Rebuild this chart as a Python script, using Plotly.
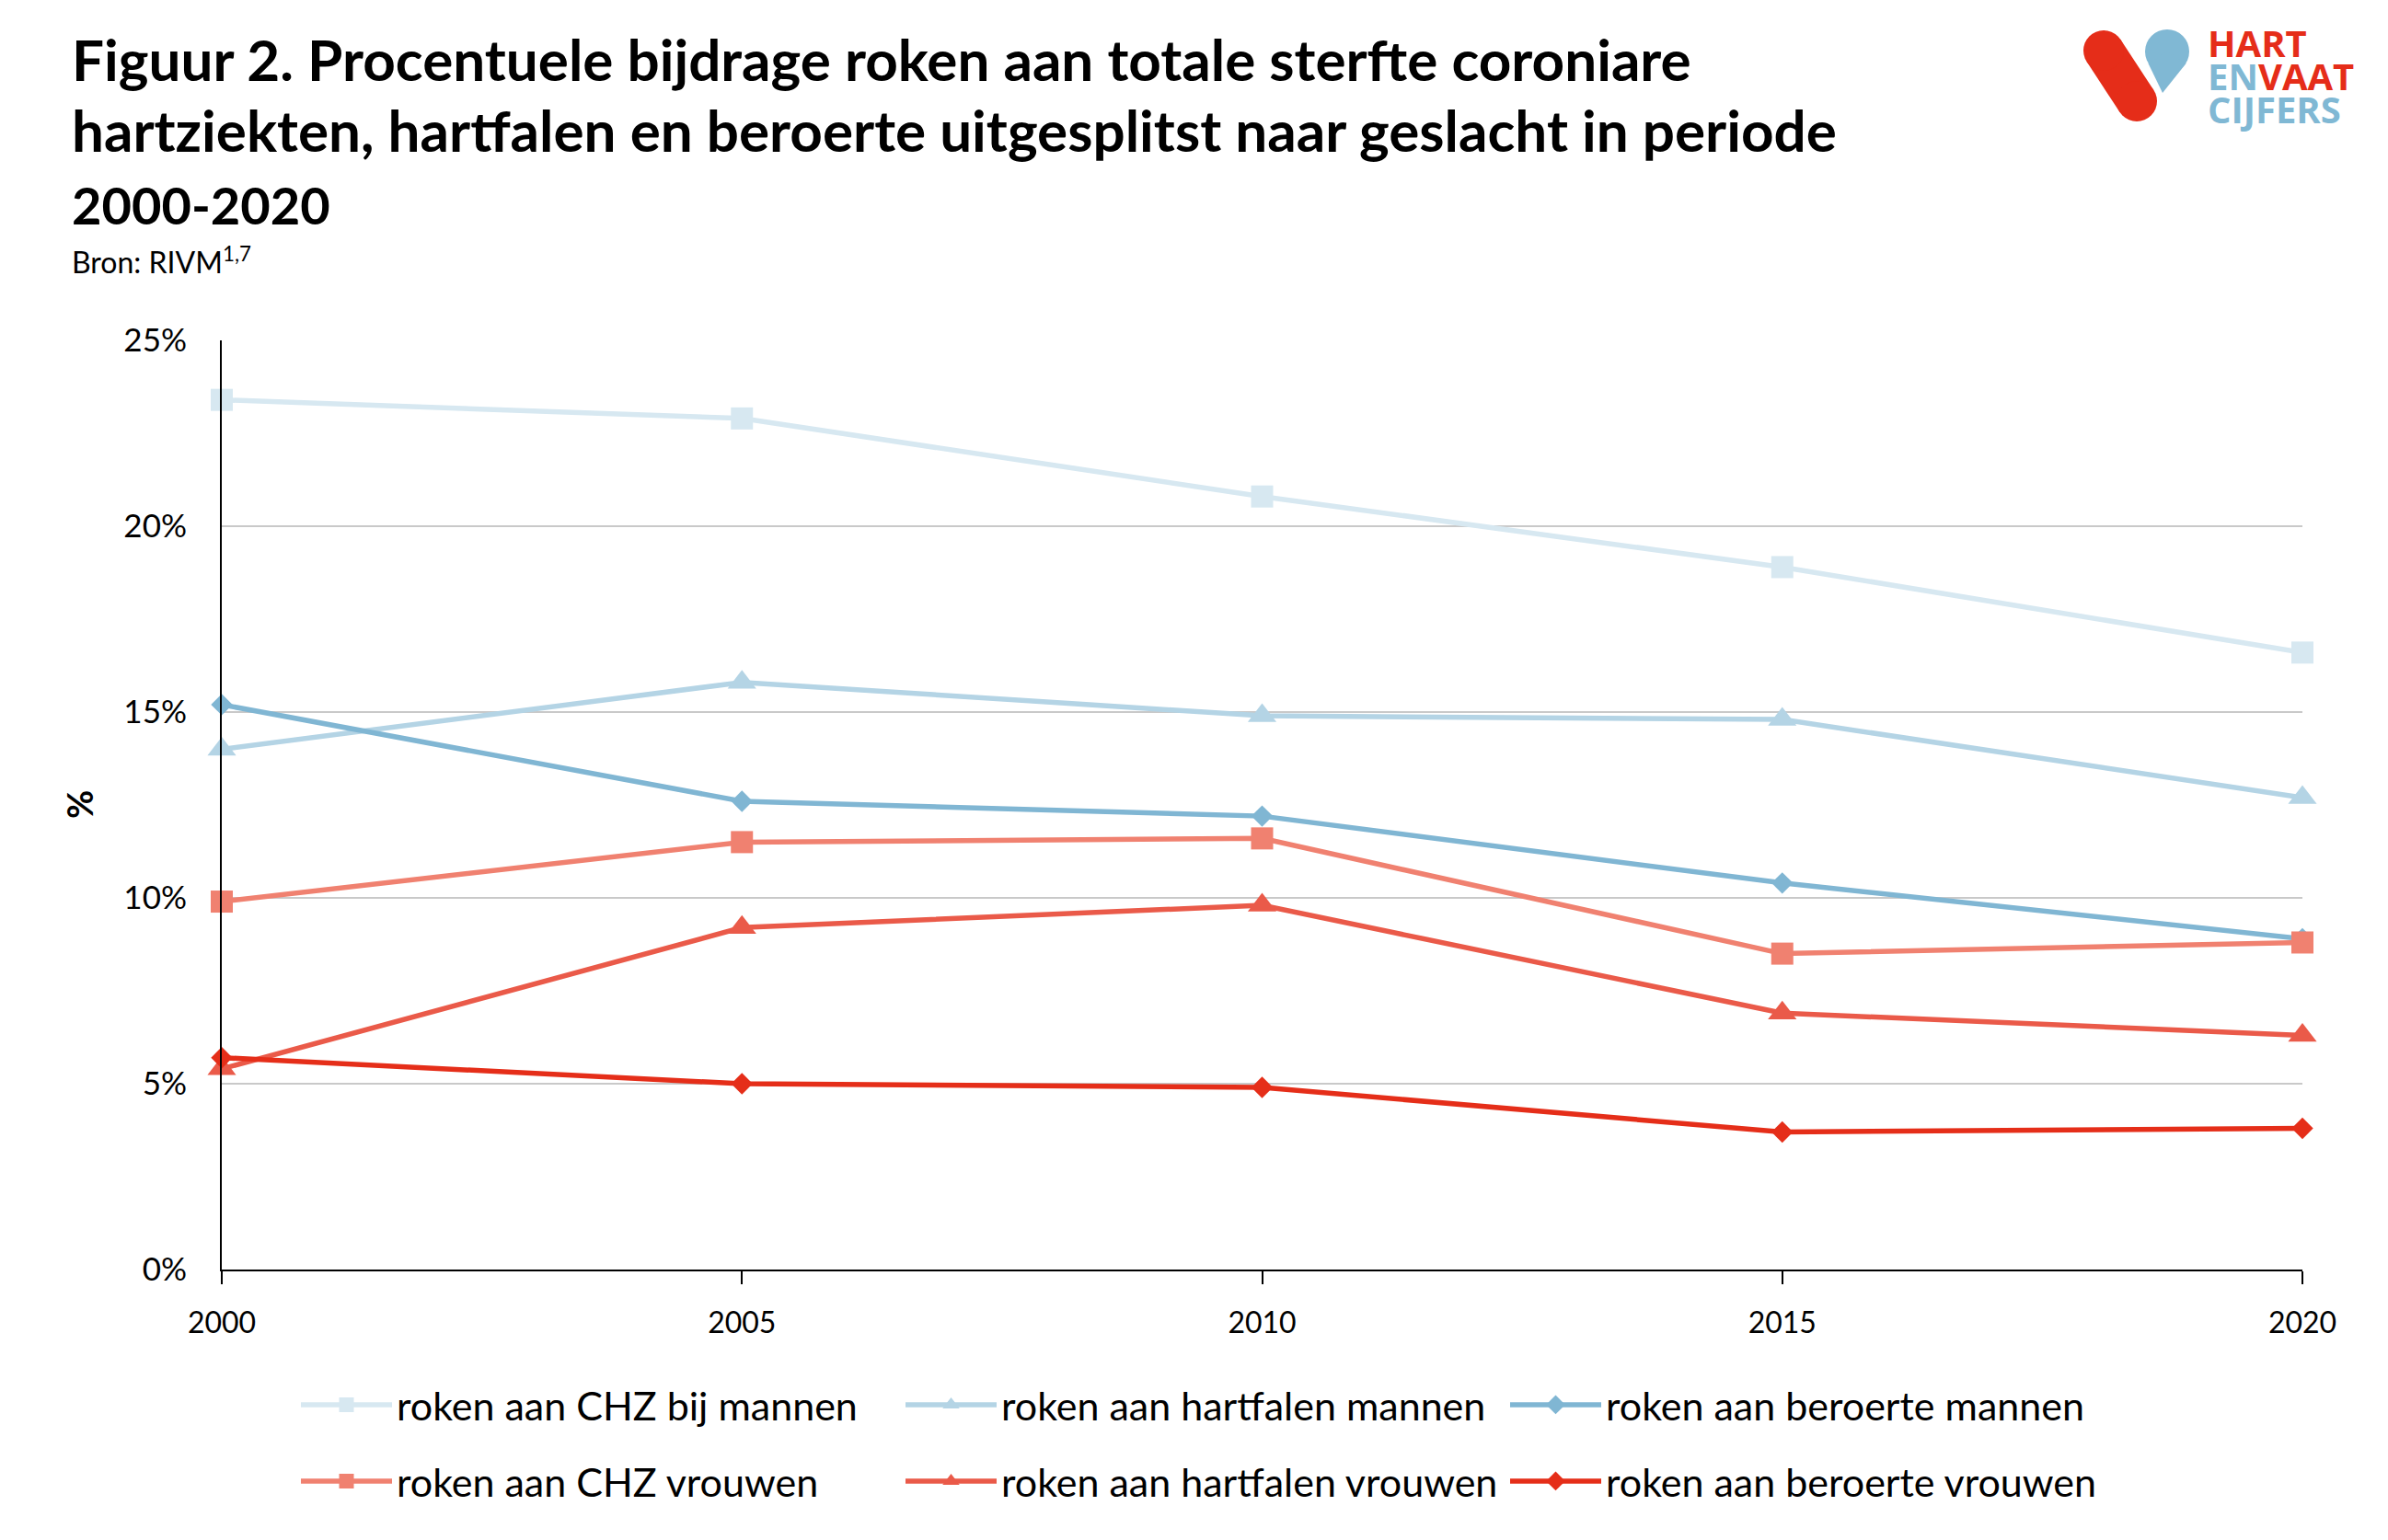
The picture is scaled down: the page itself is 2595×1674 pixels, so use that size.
import plotly.graph_objects as go

years = [2000, 2005, 2010, 2015, 2020]

names = [
    "roken aan CHZ bij mannen",
    "roken aan hartfalen mannen",
    "roken aan beroerte mannen",
    "roken aan CHZ vrouwen",
    "roken aan hartfalen vrouwen",
    "roken aan beroerte vrouwen",
]

chz_mannen = [23.4, 22.9, 20.8, 18.9, 16.6]
hartfalen_mannen = [14.0, 15.8, 14.9, 14.8, 12.7]
beroerte_mannen = [15.2, 12.6, 12.2, 10.4, 8.9]
chz_vrouwen = [9.9, 11.5, 11.6, 8.5, 8.8]
hartfalen_vrouwen = [5.4, 9.2, 9.8, 6.9, 6.3]
beroerte_vrouwen = [5.7, 5.0, 4.9, 3.7, 3.8]

y_ticks = [0, 5, 10, 15, 20, 25]
y_ticktext = ["0%", "5%", "10%", "15%", "20%", "25%"]

series = [chz_mannen, hartfalen_mannen, beroerte_mannen,
          chz_vrouwen, hartfalen_vrouwen, beroerte_vrouwen]
colors = ["#d7e8f1", "#b4d4e5", "#80b6d3", "#f08170", "#ea5a49", "#e52e19"]
symbols = ["square", "triangle-up", "diamond", "square", "triangle-up", "diamond"]
sizes = [24, 27, 18, 24, 27, 18]

W, H = 2595, 1674
L, R, T, B = 241, 2502, 370, 1380
PW, PH = R - L, B - T


def px(x):
    return (x - L) / PW


def py(y):
    return (B - y) / PH


FONT = "Lato"

fig = go.Figure()
for i, (nm, vals) in enumerate(zip(names, series)):
    fig.add_trace(go.Scatter(
        x=years, y=vals, name=nm, mode="lines+markers",
        line=dict(color=colors[i], width=5.5),
        marker=dict(symbol=symbols[i], size=sizes[i], color=colors[i]),
        cliponaxis=False,
        legend="legend" if i < 3 else "legend2",
    ))

leg_common = dict(orientation="h", xanchor="left", yanchor="middle",
                  font=dict(size=43, family=FONT), itemwidth=99, entrywidth=543,
                  bgcolor="rgba(0,0,0,0)", traceorder="normal")
fig.update_layout(
    width=W, height=H,
    margin=dict(l=L, r=W - R, t=T, b=H - B, pad=0),
    paper_bgcolor="white", plot_bgcolor="white",
    font=dict(family=FONT, size=34, color="black"),
    showlegend=True,
    legend=dict(x=px(322), y=py(1527), **leg_common),
    legend2=dict(x=px(322), y=py(1610), **leg_common),
)

fig.update_xaxes(
    range=[2000, 2020], tickvals=years, ticktext=[str(y) for y in years],
    showline=True, linecolor="black", linewidth=2,
    ticks="outside", ticklen=14, tickwidth=2, tickcolor="black",
    showgrid=False, zeroline=False, tickfont=dict(size=32), ticklabelstandoff=15,
)
fig.update_yaxes(
    range=[0, 25], tickvals=y_ticks, ticktext=y_ticktext,
    showline=True, linecolor="black", linewidth=2,
    showgrid=True, gridcolor="#c9c9c9", gridwidth=1.5, zeroline=False,
    ticks="", tickfont=dict(size=35), ticklabelstandoff=29,
)

ann = []
ann.append(dict(text="<b>Figuur 2. Procentuele bijdrage roken aan totale sterfte coroniare</b>",
                x=px(76), y=py(64), xanchor="left", yanchor="middle", font=dict(size=62)))
ann.append(dict(text="<b>hartziekten, hartfalen en beroerte uitgesplitst naar geslacht in periode</b>",
                x=px(76), y=py(141), xanchor="left", yanchor="middle", font=dict(size=62)))
ann.append(dict(text="<b>2000-2020</b>",
                x=px(76), y=py(222), xanchor="left", yanchor="middle", font=dict(size=56)))
ann.append(dict(text="Bron: RIVM<sup>1,7</sup>",
                x=px(76), y=py(283), xanchor="left", yanchor="middle", font=dict(size=32)))
ann.append(dict(text="<b>%</b>", x=px(86), y=py(875), xanchor="center", yanchor="middle",
                textangle=-90, font=dict(size=38)))
# logo text
LOGO_RED, LOGO_BLUE = "#e52d19", "#80b8d4"
logo_font = dict(size=40, family="Open Sans")
ann.append(dict(text="<b>HART</b>", x=px(2397), y=py(47), xanchor="left", yanchor="middle",
                font=dict(color=LOGO_RED, **logo_font)))
ann.append(dict(text=f"<b><span style='color:{LOGO_BLUE}'>EN</span>VAAT</b>", x=px(2397), y=py(83),
                xanchor="left", yanchor="middle", font=dict(color=LOGO_RED, **logo_font)))
ann.append(dict(text="<b>CIJFERS</b>", x=px(2397), y=py(118), xanchor="left", yanchor="middle",
                font=dict(color=LOGO_BLUE, **logo_font)))
for a in ann:
    a.update(xref="paper", yref="paper", showarrow=False)
    fig.add_annotation(**a)


def pshape(kind, coords, **kw):
    d = dict(type=kind, xref="paper", yref="paper", xsizemode="pixel", ysizemode="pixel",
             xanchor=0, yanchor=0, layer="above")
    d.update(kw)
    if kind == "path":
        d["path"] = coords
    else:
        x0, y0, x1, y1 = coords
        d.update(x0=x0 - L, x1=x1 - L, y0=B - y0, y1=B - y1)
    fig.add_shape(**d)


# red pill
ax, ay, bx, by, r = 2286, 55, 2322, 110, 22
pshape("line", (ax, ay, bx, by), line=dict(color=LOGO_RED, width=2 * r))
pshape("circle", (ax - r, ay - r, ax + r, ay + r), fillcolor=LOGO_RED, line=dict(width=0))
pshape("circle", (bx - r, by - r, bx + r, by + r), fillcolor=LOGO_RED, line=dict(width=0))
# blue drop
cx, cy, rr = 2355, 56, 24
pshape("circle", (cx - rr, cy - rr, cx + rr, cy + rr), fillcolor=LOGO_BLUE, line=dict(width=0))
pts = [(2334.5, 69), (2350, 101), (2375.5, 69), (2355, 56)]
path = "M " + " L ".join(f"{x - L},{B - y}" for x, y in pts) + " Z"
pshape("path", path, fillcolor=LOGO_BLUE, line=dict(width=0))

fig.write_html("out.html")
